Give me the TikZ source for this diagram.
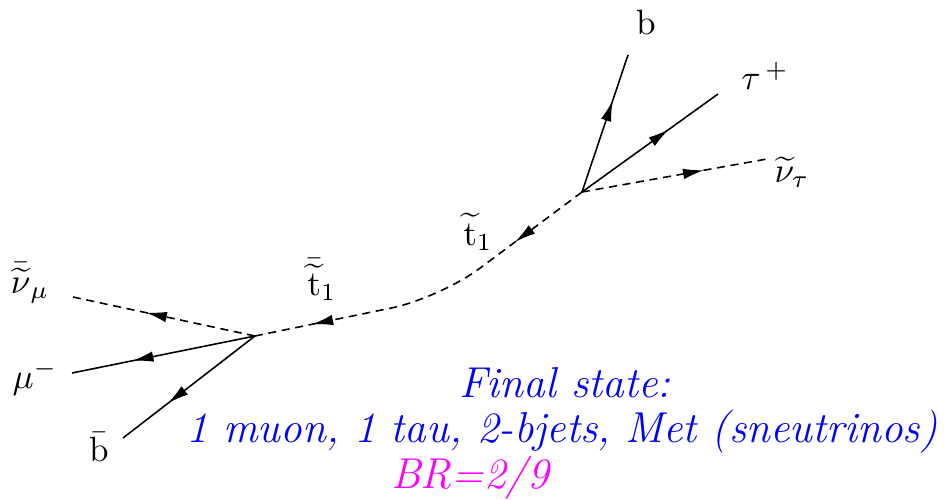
\documentclass[tikz,border=0pt]{standalone}
\usepackage{amsmath}
\usepackage{xcolor}
\usepackage{tikz}
\usetikzlibrary{arrows.meta, decorations.markings}

\definecolor{brmagenta}{RGB}{255,0,255}

\begin{document}
\begin{tikzpicture}[
    every node/.style={inner sep=1pt},
    ptip/.tip={Latex[length=6pt, width=3pt]},
    particle/.style={line width=0.45pt},
    scalar/.style={particle, dash pattern=on 2.3pt off 1.6pt},
    arrowat/.style={postaction={decorate},
                    decoration={markings, mark=at position #1 with {\arrow{ptip}}}},
    lbl/.style={font=\normalsize},
    final/.style={font=\fontsize{12.3}{14}\itshape, text=blue}
  ]
    \useasboundingbox (0,0) rectangle (9.44,4.99);

    % vertices
    \coordinate (vlow) at (2.55,1.63);
    \coordinate (vhigh) at (5.82,3.07);
    \coordinate (kink) at (4.40,2.01);

    % free ends
    \coordinate (numuend) at (0.73,2.02);
    \coordinate (muend) at (0.72,1.26);
    \coordinate (bbarend) at (1.23,0.61);
    \coordinate (bend) at (6.28,4.44);
    \coordinate (tauend) at (7.18,4.05);
    \coordinate (nutauend) at (7.67,3.40);

    % stop line
    \draw[scalar, rounded corners=14pt, postaction={decorate},
          decoration={markings, mark=at position 0.23 with {\arrow{ptip}},
                      mark=at position 0.84 with {\arrow{ptip}}}]
        (vhigh) -- (kink) -- (vlow);

    % decay at lower vertex
    \draw[scalar, arrowat=0.6] (vlow) -- (numuend);
    \draw[particle, arrowat=0.67] (vlow) -- (muend);
    \draw[particle, arrowat=0.66] (vlow) -- (bbarend);

    % decay at upper vertex
    \draw[particle, arrowat=0.67] (vhigh) -- (bend);
    \draw[particle, arrowat=0.64] (vhigh) -- (tauend);
    \draw[scalar, arrowat=0.66] (vhigh) -- (nutauend);

    % labels
    \node[lbl] (numulbl) at (0.30,2.16) {$\bar{\widetilde{\nu}}_{\mu}$};
    \node[lbl] (mulbl) at (0.35,1.21) {$\mu^{-}$};
    \node[lbl] (bbarlbl) at (0.99,0.52) {$\bar{\mathrm{b}}$};
    \node[lbl] (stopbarlbl) at (3.22,2.19) {$\bar{\widetilde{\mathrm{t}}}_{1}$};
    \node[lbl] (stoplbl) at (4.78,2.67) {$\widetilde{\mathrm{t}}_{1}$};
    \node[lbl] (blbl) at (6.46,4.77) {$\mathrm{b}$};
    \node[lbl] (taulbl) at (7.65,4.23) {$\tau^{\,+}$};
    \node[lbl] (nutaulbl) at (7.92,3.27) {$\widetilde{\nu}_{\tau}$};

    % final state text
    \node[final] (fstitle) at (5.65,1.16) {Final state:};
    \node[final] (fslist) at (5.62,0.67) {1 muon, 1 tau, 2-bjets, Met (sneutrinos)};
    \node[final, text=brmagenta] (brtext) at (4.70,0.21) {BR=2/9};
\end{tikzpicture}
\end{document}
